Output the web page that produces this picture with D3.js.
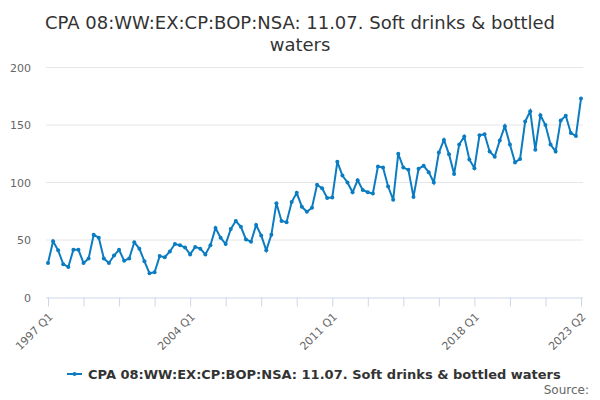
<!DOCTYPE html>
<html>
<head>
<meta charset="utf-8">
<script src="https://cdn.jsdelivr.net/npm/d3@7"></script>
<style>
  body { margin: 0; background: #fff; }
  svg { font-family: "DejaVu Sans", sans-serif; }
</style>
</head>
<body>
<div id="chart"></div>
<script>
// quarterly values, 1997 Q1 .. 2023 Q2
var years = d3.range(1997, 2024);
var quarters = ['Q1', 'Q2', 'Q3', 'Q4'];
var values = [
  30, 49, 41, 29,
  26.5, 41.5, 41.5, 30,
  34, 54.5, 52, 34,
  30, 36.5, 41.5, 32,
  34, 48, 42.5, 31.5,
  21, 22, 36, 35,
  40, 46.5, 45.5, 43.5,
  37.5, 44, 42.5, 37.5,
  45.5, 60.5, 52, 46.5,
  59.5, 66.5, 61.5, 50.5,
  48.5, 63, 54, 41,
  54.5, 82, 66.5, 65.5,
  83, 91, 79, 74.5,
  78, 98, 95, 86.5,
  87, 118, 106, 100,
  91.5, 102, 93.5, 91.5,
  90.5, 114, 113, 96.5,
  85, 125, 113, 111,
  87.5, 112, 114.5, 109,
  100, 126, 137, 124.5,
  107.5, 133, 140, 120,
  112.5, 141, 142, 127,
  122.5, 136.5, 149, 133,
  117.5, 120.5, 153, 162,
  128.5, 158.5, 150, 133,
  127, 154, 158, 143,
  140.5, 173
];
var yTicks = [0, 50, 100, 150, 200];
var seriesName = 'CPA 08:WW:EX:CP:BOP:NSA: 11.07. Soft drinks & bottled waters';

var periods = [];
years.forEach(function(y) {
  quarters.forEach(function(q) { periods.push(y + ' ' + q); });
});
periods = periods.slice(0, values.length);
var data = values.map(function(v, i) { return { period: periods[i], value: v }; });

var width = 600, height = 400;
var lineColor = '#0b7cc1';

var svg = d3.select('#chart').append('svg')
  .attr('width', width)
  .attr('height', height);

// title
svg.append('text')
  .attr('x', 300).attr('y', 29)
  .attr('text-anchor', 'middle')
  .style('font-size', '18px').style('fill', '#333')
  .text('CPA 08:WW:EX:CP:BOP:NSA: 11.07. Soft drinks & bottled');
svg.append('text')
  .attr('x', 300).attr('y', 51)
  .attr('text-anchor', 'middle')
  .style('font-size', '18px').style('fill', '#333')
  .text('waters');

var x = d3.scalePoint()
  .domain(periods)
  .range([48, 581]);

var y = d3.scaleLinear()
  .domain([0, 200])
  .range([297.5, 67.5]);

// gridlines
svg.append('g')
  .selectAll('line')
  .data(yTicks.slice(1))
  .join('line')
  .attr('x1', 46).attr('x2', 583)
  .attr('y1', d => y(d)).attr('y2', d => y(d))
  .style('stroke', '#e6e6e6');

// y labels
svg.append('g')
  .selectAll('text')
  .data(yTicks)
  .join('text')
  .attr('x', 31)
  .attr('y', d => y(d) + 4)
  .attr('text-anchor', 'end')
  .style('font-size', '11px').style('fill', '#666')
  .text(d => d);

// x axis
var tickIdx = d3.range(0, periods.length, 7);
var labelIdx = [0, 28, 56, 84, 105];
var xAxis = d3.axisBottom(x)
  .tickValues(tickIdx.map(i => periods[i]))
  .tickSize(9)
  .tickFormat(d => labelIdx.indexOf(periods.indexOf(d)) >= 0 ? d : '');

var gx = svg.append('g')
  .attr('transform', 'translate(0,' + y(0) + ')')
  .call(xAxis);
gx.select('.domain')
  .attr('d', 'M46,0.5H583')
  .style('stroke', '#ccd6eb');
gx.selectAll('.tick line').style('stroke', '#ccd6eb');
gx.selectAll('.tick text')
  .style('font-size', '11px').style('fill', '#666')
  .style('font-family', '"DejaVu Sans", sans-serif')
  .attr('text-anchor', 'end')
  .attr('dy', null)
  .attr('transform', 'translate(5,20) rotate(-45)')
  .attr('y', 0).attr('x', 0);

// series
var line = d3.line()
  .x(d => x(d.period))
  .y(d => y(d.value));

svg.append('path')
  .datum(data)
  .attr('d', line)
  .style('fill', 'none')
  .style('stroke', lineColor)
  .style('stroke-width', 2);

svg.append('g')
  .selectAll('circle')
  .data(data)
  .join('circle')
  .attr('r', 2)
  .attr('cx', d => x(d.period))
  .attr('cy', d => y(d.value))
  .style('fill', lineColor);

// legend
var lg = svg.append('g').attr('transform', 'translate(0,374)');
lg.append('line')
  .attr('x1', 67).attr('x2', 82)
  .attr('y1', 0).attr('y2', 0)
  .style('stroke', lineColor).style('stroke-width', 2);
lg.append('circle')
  .attr('cx', 74.5).attr('cy', 0).attr('r', 2)
  .style('fill', lineColor);
lg.append('text')
  .attr('x', 88).attr('y', 4.5)
  .style('font-size', '13px').style('font-weight', 'bold').style('fill', '#333')
  .text(seriesName);

// credits
svg.append('text')
  .attr('x', 589).attr('y', 394)
  .attr('text-anchor', 'end')
  .style('font-size', '12px').style('fill', '#666')
  .text('Source:');
</script>
</body>
</html>
